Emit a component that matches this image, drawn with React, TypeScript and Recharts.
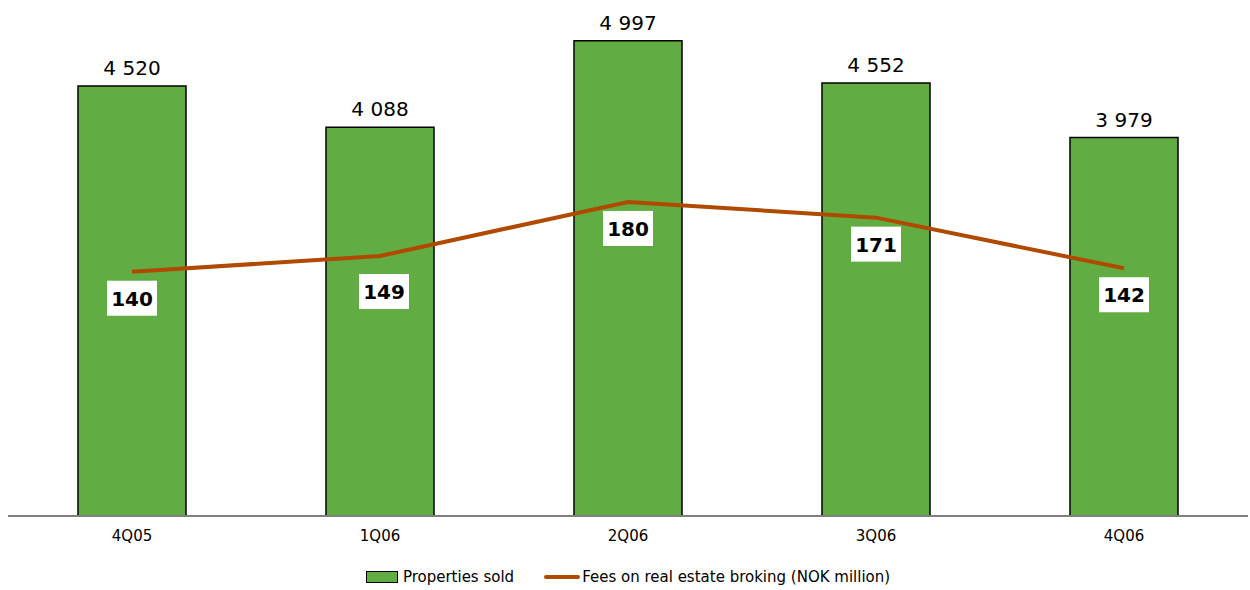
import { ComposedChart, Bar, Line, XAxis, YAxis, Legend, LabelList } from 'recharts';

const quarters = ['4Q05', '1Q06', '2Q06', '3Q06', '4Q06'];
const propertiesSold = [4520, 4088, 4997, 4552, 3979];
const fees = [140, 149, 180, 171, 142];

const data = quarters.map((q, i) => ({ q, sold: propertiesSold[i], fees: fees[i] }));

const FONT = '"DejaVu Sans", Verdana, sans-serif';
const GREEN = '#62AD43';
const BROWN = '#B04A00';

const spaced = (v: number) => String(v).replace(/\B(?=(\d{3})+(?!\d))/g, ' ');

function FeeLabel(props: any) {
  const { x, y, value, index } = props;
  // the 1Q06 label sits a bit lower and to the right in the original
  const dx = index === 1 ? 4 : 0;
  const dy = index === 1 ? 9 : 0;
  return (
    <g>
      <rect x={x + dx - 25} y={y + dy + 9} width={50} height={35} fill="#fff" />
      <text x={x + dx} y={y + dy + 27} textAnchor="middle" dominantBaseline="central" fontSize={20} fontWeight="bold" fill="#000" fontFamily={FONT}>
        {value}
      </text>
    </g>
  );
}

function LegendBox() {
  return (
    <div style={{ display: 'flex', justifyContent: 'center', alignItems: 'center', fontFamily: FONT, fontSize: 15, color: '#000' }}>
      <span style={{ display: 'inline-block', width: 30, height: 10, background: GREEN, border: '1px solid #000', marginRight: 5 }} />
      <span style={{ marginRight: 30 }}>Properties sold</span>
      <span style={{ display: 'inline-block', width: 36, height: 4, background: BROWN, borderRadius: 2, marginRight: 2 }} />
      <span>Fees on real estate broking (NOK million)</span>
    </div>
  );
}

export default function App() {
  return (
    <div style={{ position: 'absolute', left: 0, top: 0, width: 1250, height: 590, background: '#fff' }}>
      <ComposedChart width={1250} height={590} data={data} margin={{ top: 10, right: 2, left: 8, bottom: 10 }}>
        <XAxis
          dataKey="q"
          tickLine={false}
          axisLine={{ stroke: '#808080', strokeWidth: 2 }}
          tick={{ fill: '#000', fontSize: 15, fontFamily: FONT }}
          tickMargin={8}
          height={34}
        />
        <YAxis yAxisId="left" hide domain={[0, 5320]} />
        <YAxis yAxisId="right" orientation="right" hide domain={[0, 290]} />
        <Legend verticalAlign="bottom" height={30} content={<LegendBox />} wrapperStyle={{ top: 568, bottom: 'auto' }} />
        <Bar yAxisId="left" dataKey="sold" fill={GREEN} stroke="#000" strokeWidth={1.5} barSize={108} isAnimationActive={false}>
          <LabelList dataKey="sold" position="top" offset={11} formatter={(v: any) => spaced(v)} fill="#000" fontSize={20} fontFamily={FONT} />
        </Bar>
        <Line yAxisId="right" dataKey="fees" stroke={BROWN} strokeWidth={4} dot={false} activeDot={false} isAnimationActive={false}>
          <LabelList dataKey="fees" content={<FeeLabel />} />
        </Line>
      </ComposedChart>
    </div>
  );
}
